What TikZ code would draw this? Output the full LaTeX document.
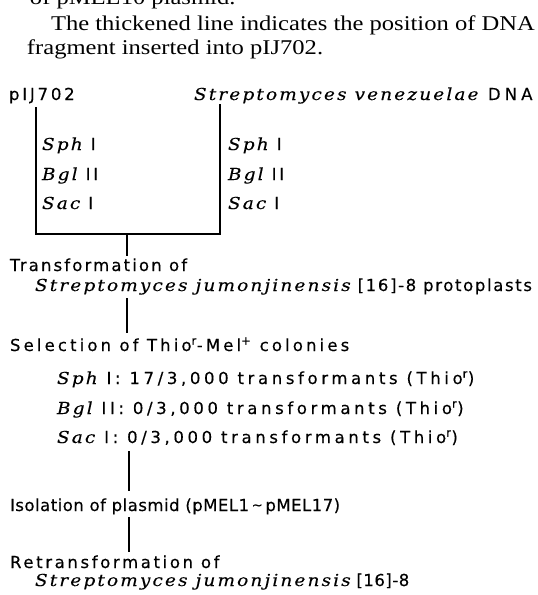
\documentclass[tikz,border=0pt]{standalone}
\usepackage{fontspec}
\setmainfont{Liberation Serif}
\newfontfamily\capfont[FakeStretch=1.17]{Liberation Serif}
\newfontfamily\gsans[FakeBold=0.35]{DejaVu Sans}
\newfontfamily\gserif[LetterSpace=13,FakeStretch=1.12,FakeBold=0.2]{DejaVu Serif}
\newcommand{\spn}[1]{{\gserif\itshape #1}}
\newcommand{\supr}[1]{\textsuperscript{#1}}
\newcommand{\ls}[1]{\addfontfeatures{LetterSpace=#1}}
\begin{document}
\begin{tikzpicture}[x=1pt,y=-1pt,
  every node/.style={inner sep=0pt,outer sep=0pt},
  caption/.style={font=\capfont\fontsize{21}{24}\selectfont, anchor=base west},
  lab/.style={font=\gsans\fontsize{16.5}{19}\selectfont, anchor=base west},
  frame/.style={line width=2.4pt},
  link/.style={line width=1.4pt}]
\useasboundingbox (0,0) rectangle (538,595);
\clip (0,0) rectangle (538,595);
% caption
\node[caption] (cap0) at (30,4) {of pMEL10 plasmid.};
\node[caption] (cap1) at (51,30) {The thickened line indicates the position of DNA};
\node[caption] (cap2) at (27,54) {fragment inserted into pIJ702.};
% heads
\node[lab] (pij) at (9,100) {\ls{17}pIJ702};
\node[lab] (sven) at (194,100) {\ls{25}\spn{Streptomyces venezuelae} DNA};
% box
\coordinate (lt) at (36,107);
\coordinate (rt) at (220,104);
\coordinate (lb) at (36,234);
\coordinate (rb) at (220,234);
\draw[frame] (lt) -- (lb) -- (rb) -- (rt);
\node[lab] (l1) at (42,150) {\ls{17}\spn{Sph} I};
\node[lab] (l2) at (42,180) {\ls{17}\spn{Bgl} II};
\node[lab] (l3) at (42,209) {\ls{17}\spn{Sac} I};
\node[lab] (r1) at (228,150) {\ls{17}\spn{Sph} I};
\node[lab] (r2) at (228,180) {\ls{17}\spn{Bgl} II};
\node[lab] (r3) at (228,209) {\ls{17}\spn{Sac} I};
% steps
\node[lab] (t1) at (10,271) {\ls{13}Transformation of};
\node[lab] (t2) at (35,291) {\ls{10}\spn{Streptomyces jumonjinensis} [16]-8 protoplasts};
\node[lab] (s0) at (10,351) {\ls{19}Selection of Thio\supr{r}-Mel\supr{+} colonies};
\node[lab] (s1) at (57,384) {\ls{22}\spn{Sph} I: 17/3,000 transformants (Thio\supr{r})};
\node[lab] (s2) at (57,414) {\ls{22}\spn{Bgl} II: 0/3,000 transformants (Thio\supr{r})};
\node[lab] (s3) at (57,443) {\ls{22}\spn{Sac} I: 0/3,000 transformants (Thio\supr{r})};
\node[lab] (iso) at (10,511) {\ls{3}Isolation of plasmid (pMEL1\,\raisebox{1.5pt}{\fontsize{13}{13}\selectfont\textasciitilde}\,pMEL17)};
\node[lab] (re1) at (10,568) {\ls{16}Retransformation of};
\node[lab] (re2) at (35,586) {\ls{3}\spn{Streptomyces jumonjinensis} [16]-8};
% connectors
\coordinate (c0) at (127,234);
\coordinate (c1) at (127,256);
\draw[link] (c0) -- (c1);
\coordinate (c2) at (127,298);
\coordinate (c3) at (127,333);
\draw[link] (c2) -- (c3);
\coordinate (c4) at (129,451);
\coordinate (c5) at (129,491);
\draw[link] (c4) -- (c5);
\coordinate (c6) at (129,517);
\coordinate (c7) at (129,552);
\draw[link] (c6) -- (c7);
\end{tikzpicture}
\end{document}
